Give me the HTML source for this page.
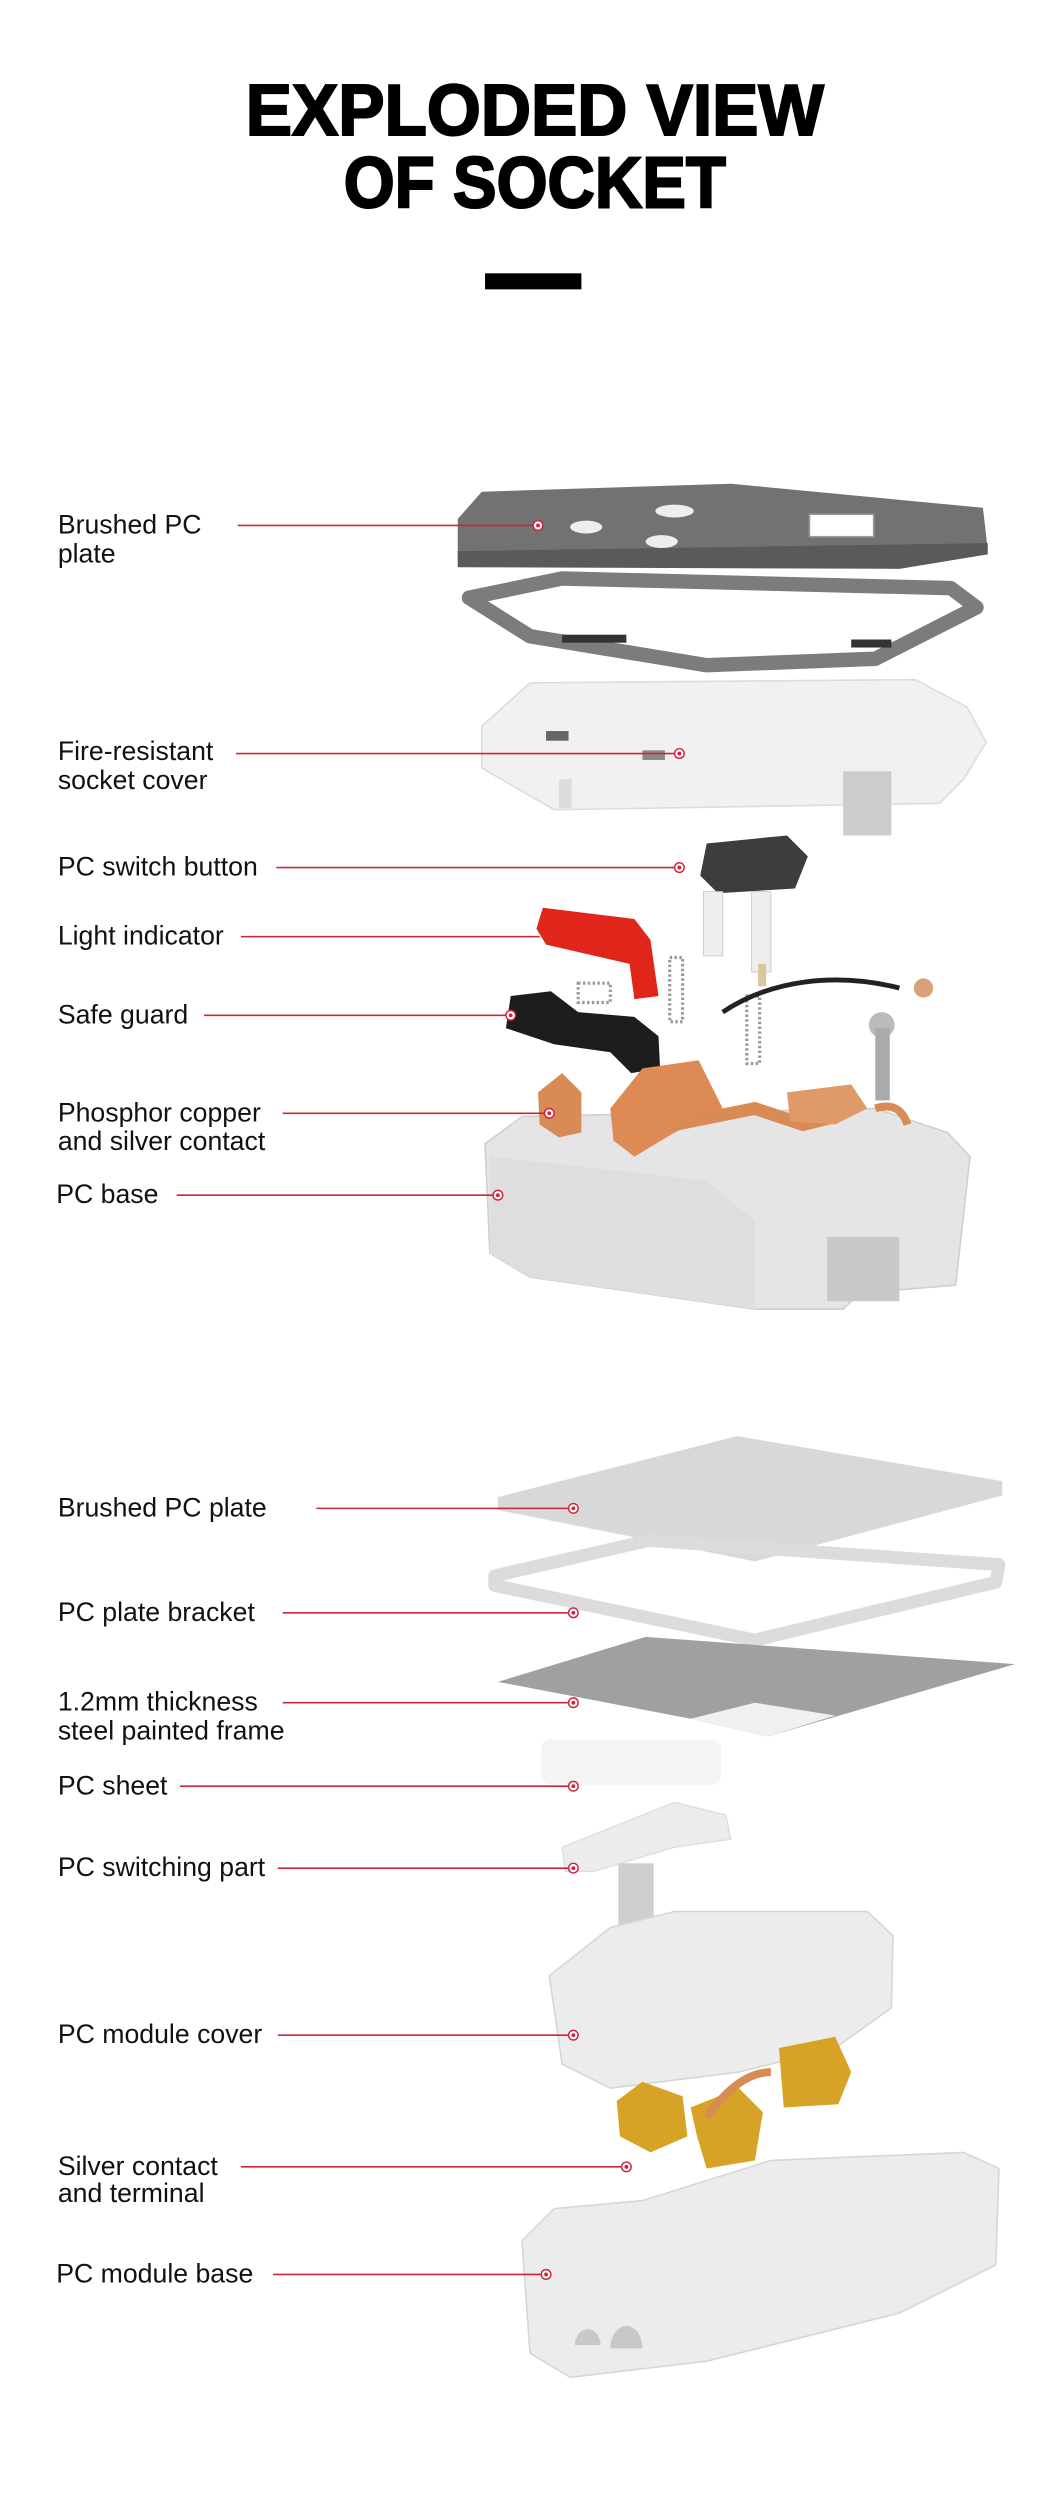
<!DOCTYPE html>
<html><head><meta charset="utf-8"><style>
html,body{margin:0;padding:0;background:#fff}
svg{display:block}
.l{font-family:"Liberation Sans",Arial,sans-serif;font-size:16.6px;fill:#111}
.r{stroke:#d0243a;stroke-width:1;fill:none}
</style></head><body>
<svg width="1060" height="2498" viewBox="0 0 660 1555" xmlns="http://www.w3.org/2000/svg">
<defs>
<g id="dot"><circle r="3" fill="#fff" stroke="#d0243a" stroke-width="0.9"/><circle r="1.2" fill="#d0243a"/></g>
</defs>
<rect width="660" height="1555" fill="#fff"/>
<!-- title -->
<text x="333" y="84" text-anchor="middle" font-family="Liberation Sans,Arial,sans-serif" font-weight="bold" font-size="45" textLength="360" lengthAdjust="spacingAndGlyphs" stroke="#000" stroke-width="1.3" fill="#000">EXPLODED VIEW</text>
<text x="333" y="129" text-anchor="middle" font-family="Liberation Sans,Arial,sans-serif" font-weight="bold" font-size="45" textLength="238" lengthAdjust="spacingAndGlyphs" stroke="#000" stroke-width="1.3" fill="#000">OF SOCKET</text>
<rect x="302" y="170" width="60" height="10" fill="#000"/>

<!-- steel frame -->
<polygon points="292,372 350,360 592,366 608,378 545,410 440,414 330,396" fill="none" stroke="#7c7c7c" stroke-width="9" stroke-linejoin="round"/>
<rect x="350" y="395" width="40" height="5" fill="#333"/><rect x="530" y="398" width="25" height="5" fill="#333"/>
<!-- dark plate -->
<polygon points="285,323 300,306 455,301 612,316 615,342 560,352 285,349" fill="#727272"/>
<polygon points="285,343 615,338 615,345 560,354 285,353" fill="#5a5a5a"/>
<rect x="504" y="320" width="40" height="14" fill="#fff" stroke="#999" stroke-width="1"/>
<ellipse cx="365" cy="328" rx="10" ry="4" fill="#eee"/><ellipse cx="412" cy="337" rx="10" ry="4" fill="#eee"/><ellipse cx="420" cy="318" rx="12" ry="4" fill="#eee"/>
<!-- white cover -->
<polygon points="300,452 330,425 570,423 602,440 614,462 600,485 585,500 345,504 300,478" fill="#f1f1f1" stroke="#dcdcdc" stroke-width="1"/>
<rect x="348" y="485" width="8" height="18" fill="#ddd"/><rect x="525" y="480" width="30" height="40" fill="#ccc"/>
<rect x="340" y="455" width="14" height="6" fill="#666"/><rect x="400" y="467" width="14" height="6" fill="#888"/>
<!-- switch button -->
<polygon points="440,525 490,520 503,533 495,553 447,556 436,545" fill="#3d3d3d"/>
<rect x="438" y="555" width="12" height="40" fill="#eee" stroke="#ccc" stroke-width="0.6"/>
<rect x="468" y="555" width="12" height="50" fill="#eee" stroke="#ccc" stroke-width="0.6"/>
<rect x="472" y="600" width="5" height="14" fill="#d8c8a0"/>
<!-- red indicator -->
<polygon points="338,565 395,572 405,585 410,620 395,622 392,600 340,588 334,578" fill="#e0251a"/>
<!-- springs -->
<rect x="360" y="612" width="20" height="12" fill="none" stroke="#999" stroke-width="2" stroke-dasharray="1.5 1.5"/>
<rect x="417" y="596" width="8" height="40" fill="none" stroke="#999" stroke-width="2" stroke-dasharray="1.5 1.5"/>
<rect x="465" y="620" width="8" height="42" fill="none" stroke="#999" stroke-width="2" stroke-dasharray="1.5 1.5"/>
<!-- black guard -->
<polygon points="318,620 343,617 360,630 395,633 410,645 411,665 393,668 380,655 345,650 315,640" fill="#1d1d1d"/>
<!-- wire & screw -->
<path d="M450,630 C480,610 520,605 560,615" stroke="#222" stroke-width="3" fill="none"/>
<circle cx="575" cy="615" r="6" fill="#d9a07a"/>
<circle cx="549" cy="638" r="8" fill="#bbb"/>
<rect x="545" y="640" width="9" height="45" fill="#aaa"/>
<!-- base -->
<polygon points="302,712 325,695 545,690 590,705 604,720 595,800 535,805 525,815 470,815 330,795 305,780" fill="#e5e5e5" stroke="#d0d0d0" stroke-width="1"/>
<polygon points="305,720 440,735 470,760 470,815 330,795 305,780" fill="#dedede"/>
<rect x="515" y="770" width="45" height="40" fill="#c8c8c8"/>
<!-- copper -->
<polygon points="335,680 350,668 362,680 362,705 348,708 336,700" fill="#d98b55"/>
<polygon points="380,690 400,665 435,660 450,690 420,705 395,720 382,710" fill="#dd8a55"/>
<path d="M420,700 L470,690 L500,700 L520,695" stroke="#d98b55" stroke-width="8" fill="none"/>
<polygon points="490,680 530,675 540,690 520,700 492,698" fill="#e09a6a"/>
<path d="M545,690 Q560,685 565,700" stroke="#d98b55" stroke-width="5" fill="none"/>

<!-- Section 2 -->
<polygon points="310,932 459,894 624,922 624,931 470,972 310,940" fill="#d8d8d8"/>
<polygon points="308,981 404,959 622,974 620,985 470,1021 308,987" fill="none" stroke="#dcdcdc" stroke-width="8" stroke-linejoin="round"/>
<polygon points="310,1047 402,1019 632,1036 478,1081 430,1070" fill="#a0a0a0"/>
<polygon points="430,1070 478,1081 520,1068 470,1060" fill="#f0f0f0"/>
<rect x="337" y="1083" width="112" height="28" rx="6" fill="#f4f4f4"/>
<polygon points="350,1150 420,1122 452,1130 455,1145 420,1150 370,1165 352,1165" fill="#ececec" stroke="#ddd" stroke-width="0.8"/>
<rect x="385" y="1160" width="22" height="48" fill="#cfcfcf"/>
<polygon points="342,1230 380,1200 420,1190 540,1190 556,1205 555,1250 520,1275 460,1290 380,1300 350,1285" fill="#ececec" stroke="#d6d6d6" stroke-width="1"/>
<polygon points="384,1308 400,1296 425,1305 428,1330 405,1340 386,1330" fill="#d6a326"/>
<polygon points="430,1312 460,1300 475,1315 470,1345 440,1350 434,1330" fill="#d6a326"/>
<polygon points="485,1275 520,1268 530,1290 522,1310 488,1312" fill="#d6a326"/>
<path d="M440,1318 Q460,1290 480,1290" stroke="#d98b55" stroke-width="5" fill="none"/>
<polygon points="325,1395 345,1375 400,1370 480,1345 600,1340 622,1350 620,1410 560,1440 440,1470 355,1480 330,1465" fill="#ececec" stroke="#d6d6d6" stroke-width="1"/>
<path d="M358,1460 a8,10 0 0 1 16,0z M380,1462 a10,14 0 0 1 20,0z" fill="#c8c8c8"/>

<!-- labels -->
<g class="l">
<text x="36" y="332">Brushed PC</text><text x="36" y="350">plate</text>
<text x="36" y="473">Fire-resistant</text><text x="36" y="491">socket cover</text>
<text x="36" y="545">PC switch button</text>
<text x="36" y="588">Light indicator</text>
<text x="36" y="637">Safe guard</text>
<text x="36" y="698">Phosphor copper</text><text x="36" y="716">and silver contact</text>
<text x="35" y="749">PC base</text>
<text x="36" y="944">Brushed PC plate</text>
<text x="36" y="1009">PC plate bracket</text>
<text x="36" y="1065">1.2mm thickness</text><text x="36" y="1083">steel painted frame</text>
<text x="36" y="1117">PC sheet</text>
<text x="36" y="1168">PC switching part</text>
<text x="36" y="1272">PC module cover</text>
<text x="36" y="1354">Silver contact</text><text x="36" y="1371">and terminal</text>
<text x="35" y="1421">PC module base</text>
</g>
<g class="r">
<line x1="148" y1="327" x2="335" y2="327"/>
<line x1="147" y1="469" x2="423" y2="469"/>
<line x1="172" y1="540" x2="423" y2="540"/>
<line x1="150" y1="583" x2="336" y2="583"/>
<line x1="127" y1="632" x2="318" y2="632"/>
<line x1="176" y1="693" x2="342" y2="693"/>
<line x1="110" y1="744" x2="310" y2="744"/>
<line x1="197" y1="939" x2="357" y2="939"/>
<line x1="176" y1="1004" x2="357" y2="1004"/>
<line x1="176" y1="1060" x2="357" y2="1060"/>
<line x1="112" y1="1112" x2="357" y2="1112"/>
<line x1="173" y1="1163" x2="357" y2="1163"/>
<line x1="173" y1="1267" x2="357" y2="1267"/>
<line x1="150" y1="1349" x2="390" y2="1349"/>
<line x1="170" y1="1416" x2="340" y2="1416"/>
</g>
<use href="#dot" x="335" y="327"/><use href="#dot" x="423" y="469"/><use href="#dot" x="423" y="540"/>
<use href="#dot" x="318" y="632"/><use href="#dot" x="342" y="693"/><use href="#dot" x="310" y="744"/>
<use href="#dot" x="357" y="939"/><use href="#dot" x="357" y="1004"/><use href="#dot" x="357" y="1060"/>
<use href="#dot" x="357" y="1112"/><use href="#dot" x="357" y="1163"/><use href="#dot" x="357" y="1267"/>
<use href="#dot" x="390" y="1349"/><use href="#dot" x="340" y="1416"/>
</svg>
</body></html>
